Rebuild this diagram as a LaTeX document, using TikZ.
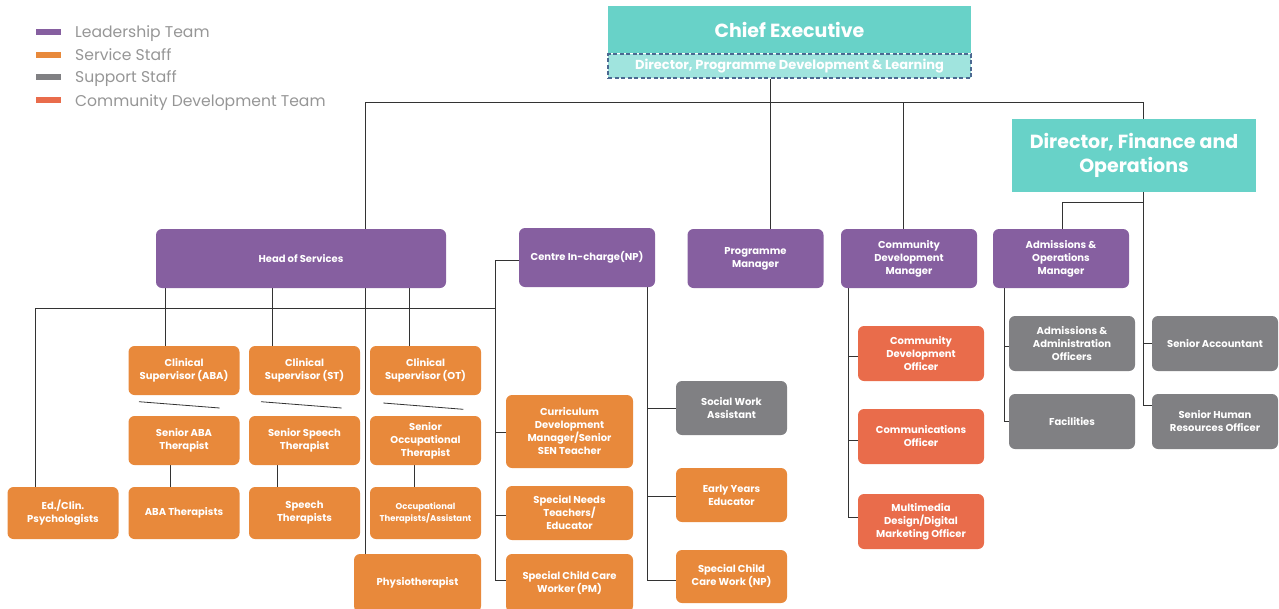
\documentclass[tikz,border=0pt]{standalone}
\usepackage{fontspec}
\setmainfont{Poppins}
\usetikzlibrary{backgrounds}
\definecolor{org_purple}{RGB}{134, 95, 160}
\definecolor{org_orange}{RGB}{232, 137, 59}
\definecolor{org_grey}{RGB}{128, 128, 131}
\definecolor{org_red}{RGB}{233, 108, 75}
\definecolor{org_teal}{RGB}{104, 210, 200}
\definecolor{org_lteal}{RGB}{160, 228, 222}
\definecolor{org_dash}{RGB}{75, 105, 145}
\definecolor{org_key}{RGB}{150, 150, 150}
\tikzstyle{box}=[rounded corners=6pt,text=white,align=center,inner sep=2pt,
  minimum width=111pt,minimum height=54pt,font=\fontsize{10}{13}\selectfont\bfseries]
\tikzstyle{lead}=[box,fill=org_purple,minimum width=136pt,minimum height=59pt]
\tikzstyle{serv}=[box,fill=org_orange]
\tikzstyle{supp}=[box,fill=org_grey]
\tikzstyle{comm}=[box,fill=org_red]
\tikzstyle{exec}=[fill=org_teal,text=white,align=center,inner sep=0pt,
  font=\fontsize{19}{24}\selectfont\bfseries]
\tikzstyle{swatch}=[inner sep=0pt,minimum width=25pt,minimum height=6pt]
\tikzstyle{key}=[anchor=base west,inner sep=0pt,text=org_key,font=\fontsize{15.6}{18}\selectfont]
\tikzstyle{link}=[draw=black!80,line width=0.8pt]
\tikzstyle{none}=[]

\begin{document}
\begin{tikzpicture}[x=1pt,y=-1pt]
    \useasboundingbox (0,0) rectangle (1279,608);
            % legend
            \node [style=swatch, fill=org_purple] (k1) at (48.5, 32) {};
            \node [style=swatch, fill=org_orange] (k2) at (48.5, 55) {};
            \node [style=swatch, fill=org_grey] (k3) at (48.5, 77) {};
            \node [style=swatch, fill=org_red] (k4) at (48.5, 100) {};
            \node [style=key] (l1) at (75, 37) {Leadership Team};
            \node [style=key] (l2) at (75, 60) {Service Staff};
            \node [style=key] (l3) at (75, 82.5) {Support Staff};
            \node [style=key] (l4) at (75, 106) {Community Development Team};
            % directors
            \node [style=exec, minimum width=363pt, minimum height=47pt] (ceo) at (789.5, 29.5) {Chief Executive};
            \node [style=exec, fill=org_lteal, draw=org_dash, dash pattern=on 4pt off 2.5pt, line width=1.4pt, minimum width=363pt,
              minimum height=24pt, font=\fontsize{13}{15}\selectfont\bfseries] (dpdl) at (789.5, 66) {Director, Programme Development \& Learning};
            \node [style=exec, minimum width=244pt, minimum height=73pt] (dfo) at (1134, 155.5) {Director, Finance and\\Operations};
            % leadership team
            \node [style=lead, minimum width=290pt] (hos) at (301, 258.5) {Head of Services};
            \node [style=lead] (cic) at (587, 257.5) {Centre In-charge(NP)};
            \node [style=lead] (pm) at (755.5, 258.5) {Programme\\Manager};
            \node [style=lead] (cdm) at (909, 258.5) {Community\\Development\\Manager};
            \node [style=lead] (aom) at (1061, 258.5) {Admissions \&\\Operations\\Manager};
            % services
            \node [style=serv, minimum height=49pt] (csaba) at (184, 370.5) {Clinical\\Supervisor (ABA)};
            \node [style=serv, minimum height=49pt] (csst) at (304.5, 370.5) {Clinical\\Supervisor (ST)};
            \node [style=serv, minimum height=49pt] (csot) at (425.5, 370.5) {Clinical\\Supervisor (OT)};
            \node [style=serv, minimum height=49pt] (saba) at (184, 440.5) {Senior ABA\\Therapist};
            \node [style=serv, minimum height=49pt] (sst) at (304.5, 440.5) {Senior Speech\\Therapist};
            \node [style=serv, minimum height=49pt] (sot) at (425.5, 440.5) {Senior\\Occupational\\Therapist};
            \node [style=serv, minimum height=52pt] (ed) at (63, 513) {Ed./Clin.\\Psychologists};
            \node [style=serv, minimum height=52pt] (abat) at (184, 513) {ABA Therapists};
            \node [style=serv, minimum height=52pt] (spt) at (304.5, 513) {Speech\\Therapists};
            \node [style=serv, minimum height=52pt, font=\fontsize{8.5}{12}\selectfont\bfseries] (ott) at (425.5, 513) {Occupational\\Therapists/Assistant};
            \node [style=serv, minimum width=127pt, minimum height=58pt] (phy) at (417.5, 583) {Physiotherapist};
            \node [style=serv, minimum width=127pt, minimum height=73pt] (cur) at (569.5, 431.5) {Curriculum\\Development\\Manager/Senior\\SEN Teacher};
            \node [style=serv, minimum width=127pt] (snt) at (569.5, 513) {Special Needs\\Teachers/\\Educator};
            \node [style=serv, minimum width=127pt, minimum height=58pt] (sccw) at (569.5, 583) {Special Child Care\\Worker (PM)};
            \node [style=supp] (swa) at (731.5, 408) {Social Work\\Assistant};
            \node [style=serv] (eye) at (731.5, 495) {Early Years\\Educator};
            \node [style=serv, minimum height=53pt] (sccn) at (731.5, 576.5) {Special Child\\Care Work (NP)};
            % community development
            \node [style=comm, minimum width=126pt, minimum height=55pt] (cdo) at (921, 353.5) {Community\\Development\\Officer};
            \node [style=comm, minimum width=126pt, minimum height=55pt] (cco) at (921, 436.5) {Communications\\Officer};
            \node [style=comm, minimum width=126pt, minimum height=55pt] (mdm) at (921, 521.5) {Multimedia\\Design/Digital\\Marketing Officer};
            % support
            \node [style=supp, minimum width=126pt, minimum height=55pt] (aao) at (1072, 343.5) {Admissions \&\\Administration\\Officers};
            \node [style=supp, minimum width=126pt, minimum height=55pt] (fac) at (1072, 421.5) {Facilities};
            \node [style=supp, minimum width=126pt, minimum height=55pt] (sa) at (1215, 343.5) {Senior Accountant};
            \node [style=supp, minimum width=126pt, minimum height=55pt] (hr) at (1215, 421.5) {Senior Human\\Resources Officer};
            % junctions
            \coordinate (b0) at (365, 102);
            \coordinate (b1) at (1143, 102);
            \coordinate (b2) at (770, 102);
            \coordinate (b3) at (903, 102);
            \coordinate (f0) at (1143, 405);
            \coordinate (f1) at (1143, 343);
            \coordinate (f2) at (1062, 202);
            \coordinate (s0) at (35, 308);
            \coordinate (s1) at (165, 308);
            \coordinate (s2) at (272, 308);
            \coordinate (s3) at (409, 308);
            \coordinate (s4) at (495, 308);
            \coordinate (c0) at (495, 260);
            \coordinate (c1) at (495, 580);
            \coordinate (c2) at (495, 432);
            \coordinate (c3) at (495, 515);
            \coordinate (d0) at (647, 287);
            \coordinate (d1) at (647, 580);
            \coordinate (d2) at (647, 408);
            \coordinate (d3) at (647, 496);
            \coordinate (e0) at (848, 288);
            \coordinate (e1) at (848, 517);
            \coordinate (e2) at (848, 356);
            \coordinate (e3) at (848, 440);
            \coordinate (g0) at (1004, 288);
            \coordinate (g1) at (1004, 421);
            \coordinate (g2) at (1004, 346);
            \coordinate (v1) at (170, 476);
            \coordinate (v2) at (277, 476);
            \coordinate (v3) at (414, 476);
            \coordinate (t1) at (139, 401.7);
            \coordinate (t2) at (219.7, 408);
            \coordinate (t3) at (261, 401.7);
            \coordinate (t4) at (341.7, 408);
            \coordinate (t5) at (383.3, 403);
            \coordinate (t6) at (463.3, 409.3);
            \begin{scope}[on background layer]
            \draw [style=link] (b0) to (b1);
            \draw [style=link] (dpdl.south -| b2) to (pm.north -| b2);
            \draw [style=link] (b3) to (cdm.north -| b3);
            \draw [style=link] (b0) to (phy.north -| b0);
            \draw [style=link] (b1) -- (f0) -- (hr.west |- f0);
            \draw [style=link] (f1) to (sa.west |- f1);
            \draw [style=link] (dfo.south -| b1) |- (f2) -- (aom.north -| f2);
            \draw [style=link] (s0) to (s4);
            \draw [style=link] (s0) to (ed.north -| s0);
            \draw [style=link] (hos.south -| s1) to (csaba.north -| s1);
            \draw [style=link] (hos.south -| s2) to (csst.north -| s2);
            \draw [style=link] (hos.south -| s3) to (csot.north -| s3);
            \draw [style=link] (cic.west |- c0) -- (c0) -- (c1) -- (sccw.west |- c1);
            \draw [style=link] (c2) to (cur.west |- c2);
            \draw [style=link] (c3) to (snt.west |- c3);
            \draw [style=link] (cic.south -| d0) -- (d1) -- (sccn.west |- d1);
            \draw [style=link] (d2) to (swa.west |- d2);
            \draw [style=link] (d3) to (eye.west |- d3);
            \draw [style=link] (cdm.south -| e0) -- (e1) -- (mdm.west |- e1);
            \draw [style=link] (e2) to (cdo.west |- e2);
            \draw [style=link] (e3) to (cco.west |- e3);
            \draw [style=link] (aom.south -| g0) -- (g1) -- (fac.west |- g1);
            \draw [style=link] (g2) to (aao.west |- g2);
            \draw [style=link] (saba.south -| v1) to (abat.north -| v1);
            \draw [style=link] (sst.south -| v2) to (spt.north -| v2);
            \draw [style=link] (sot.south -| v3) to (ott.north -| v3);
            \draw [style=link] (t1) to (t2);
            \draw [style=link] (t3) to (t4);
            \draw [style=link] (t5) to (t6);
            \end{scope}
    \end{tikzpicture}
\end{document}
